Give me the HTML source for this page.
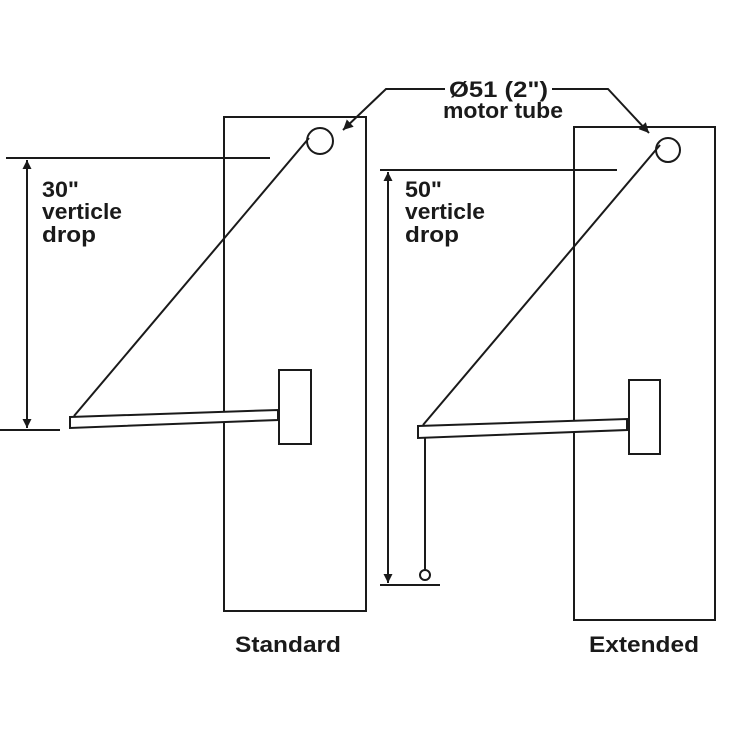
<!DOCTYPE html>
<html><head><style>
html,body{margin:0;padding:0;background:#fff;}
svg{display:block;}
text{font-family:"Liberation Sans",Arial,sans-serif;font-weight:bold;fill:#1a1a1a;}
</style></head><body>
<svg width="730" height="730" viewBox="0 0 730 730" xmlns="http://www.w3.org/2000/svg">
<defs>
<marker id="a" viewBox="0 0 10 10" refX="10" refY="5" markerWidth="12" markerHeight="10" orient="auto-start-reverse" markerUnits="userSpaceOnUse">
<path d="M0,0 L10,5 L0,10 z" fill="#1a1a1a"/></marker>
<marker id="b" viewBox="0 0 10 10" refX="10" refY="5" markerWidth="14" markerHeight="9" orient="auto-start-reverse" markerUnits="userSpaceOnUse">
<path d="M0,0 L10,5 L0,10 z" fill="#1a1a1a"/></marker>
</defs>
<g stroke="#1a1a1a" stroke-width="2" fill="none">
<rect x="224" y="117" width="142" height="494"/>
<circle cx="320" cy="141" r="13"/>
<line x1="6" y1="158" x2="270" y2="158"/>
<line x1="0" y1="430" x2="60" y2="430"/>
<line x1="27" y1="160" x2="27" y2="428" marker-start="url(#b)" marker-end="url(#b)"/>
<line x1="309" y1="138" x2="74" y2="416"/>
<polygon points="70,417 278,410 278,420 70,428" fill="#fff"/>
<rect x="279" y="370" width="32" height="74" fill="#fff"/>
<rect x="574" y="127" width="141" height="493"/>
<circle cx="668" cy="150" r="12"/>
<line x1="380" y1="170" x2="617" y2="170"/>
<line x1="380" y1="585" x2="440" y2="585"/>
<line x1="388" y1="172" x2="388" y2="583" marker-start="url(#b)" marker-end="url(#b)"/>
<line x1="660" y1="145" x2="423" y2="425"/>
<line x1="425" y1="438" x2="425" y2="570"/>
<circle cx="425" cy="575" r="5"/>
<polygon points="418,426 627,419 627,430 418,438" fill="#fff"/>
<rect x="629" y="380" width="31" height="74" fill="#fff"/>
<polyline points="445,89 386,89 343,130" marker-end="url(#a)"/>
<polyline points="552,89 608,89 649,133" marker-end="url(#a)"/>
</g>
<g font-size="22.5">
<text x="42" y="197" textLength="37" lengthAdjust="spacingAndGlyphs">30"</text>
<text x="42" y="219" textLength="80" lengthAdjust="spacingAndGlyphs">verticle</text>
<text x="42" y="242" textLength="54" lengthAdjust="spacingAndGlyphs">drop</text>
<text x="405" y="197" textLength="37" lengthAdjust="spacingAndGlyphs">50"</text>
<text x="405" y="219" textLength="80" lengthAdjust="spacingAndGlyphs">verticle</text>
<text x="405" y="242" textLength="54" lengthAdjust="spacingAndGlyphs">drop</text>
<text x="449" y="97" textLength="99" lengthAdjust="spacingAndGlyphs">Ø51 (2")</text>
<text x="443" y="118" textLength="120" lengthAdjust="spacingAndGlyphs">motor tube</text>
<text x="235" y="652" textLength="106" lengthAdjust="spacingAndGlyphs">Standard</text>
<text x="589" y="652" textLength="110" lengthAdjust="spacingAndGlyphs">Extended</text>
</g>
</svg>
</body></html>
